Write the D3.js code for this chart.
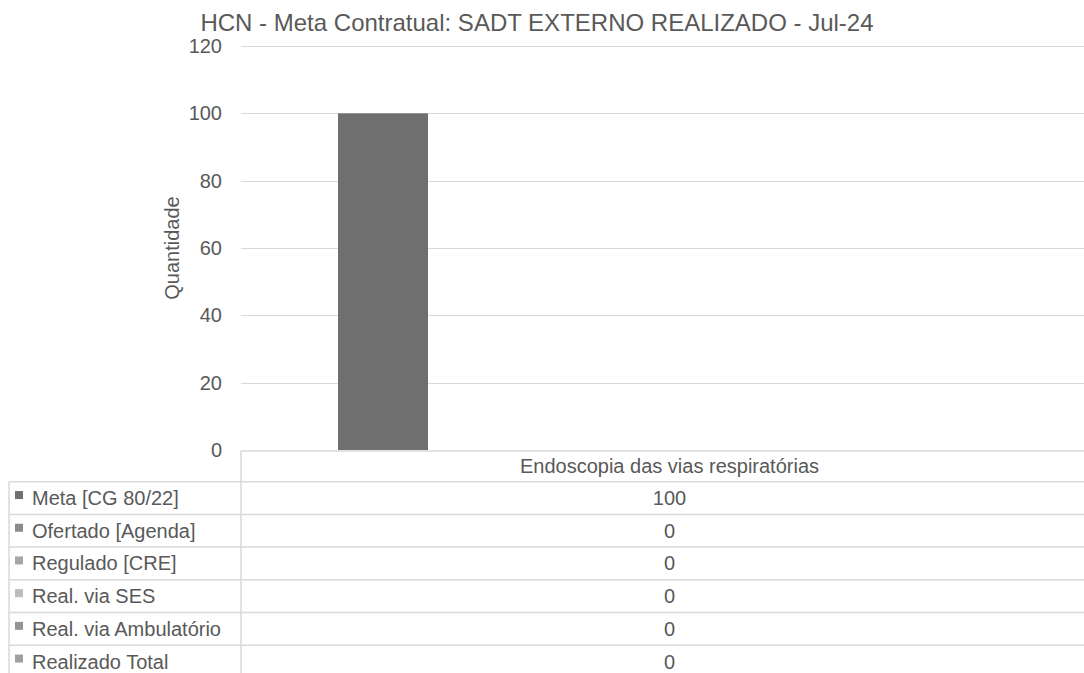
<!DOCTYPE html>
<html>
<head>
<meta charset="utf-8">
<script src="https://cdn.jsdelivr.net/npm/d3@7"></script>
<style>
  body { margin: 0; background: #fff; }
  text { font-family: "Liberation Sans", Arial, sans-serif; fill: #595959; }
</style>
</head>
<body>
<div id="chart"></div>
<script>
// Chart data
const title = "HCN - Meta Contratual: SADT EXTERNO REALIZADO - Jul-24";
const categories = ["Endoscopia das vias respiratórias"];
const seriesNames = ["Meta [CG 80/22]", "Ofertado [Agenda]", "Regulado [CRE]", "Real. via SES", "Real. via Ambulatório", "Realizado Total"];
const seriesValues = [[100], [0], [0], [0], [0], [0]];
const seriesColors = ["#6f6f6f", "#8c8c8c", "#a6a6a6", "#bdbdbd", "#939393", "#a0a0a0"];
const yTicks = [0, 20, 40, 60, 80, 100, 120];

const W = 1084, H = 673;
const plot = { left: 241, right: 1100, top: 46, bottom: 450 };
const table = { left: 9, headerTop: 451, headerH: 30.7, rowH: 32.7 };
const gridColor = "#d9d9d9";

const svg = d3.select("#chart").append("svg").attr("width", W).attr("height", H);

// Scales
const y = d3.scaleLinear().domain([0, 120]).range([plot.bottom, plot.top]);
const x0 = d3.scaleBand().domain(categories).range([plot.left, plot.right]);
const x1 = d3.scaleBand().domain(seriesNames).range([0, 540]);
const groupOffset = 97;

// Gridlines
svg.append("g")
  .selectAll("line")
  .data(yTicks.filter((t) => t > 0))
  .join("line")
  .attr("x1", plot.left).attr("x2", W)
  .attr("y1", (d) => Math.round(y(d)) + 0.5).attr("y2", (d) => Math.round(y(d)) + 0.5)
  .attr("stroke", gridColor).attr("stroke-width", 1);

// Y tick labels
svg.append("g")
  .selectAll("text")
  .data(yTicks)
  .join("text")
  .attr("x", 222)
  .attr("y", (d) => y(d))
  .attr("dy", "0.35em")
  .attr("text-anchor", "end")
  .style("font-size", "20px")
  .text((d) => d);

// Y axis title
svg.append("text")
  .attr("transform", `translate(179,${(plot.top + plot.bottom) / 2}) rotate(-90)`)
  .attr("text-anchor", "middle")
  .style("font-size", "20px")
  .text("Quantidade");

// Bars
seriesNames.forEach((name, i) => {
  svg.append("g")
    .selectAll("rect")
    .data(categories.map((c, j) => ({ c, v: seriesValues[i][j] })))
    .join("rect")
    .attr("x", (d) => x0(d.c) + groupOffset + x1(name))
    .attr("width", x1.bandwidth())
    .attr("y", (d) => y(d.v))
    .attr("height", (d) => y(0) - y(d.v))
    .attr("fill", seriesColors[i]);
});

// Data table
const rowTop = (i) => table.headerTop + table.headerH + i * table.rowH;
const tbl = svg.append("g");

// Header top line (axis line)
tbl.append("line")
  .attr("x1", plot.left).attr("x2", W)
  .attr("y1", table.headerTop).attr("y2", table.headerTop)
  .attr("stroke", gridColor).attr("stroke-width", 1.5);

// Row lines
d3.range(seriesNames.length + 1).forEach((i) => {
  tbl.append("line")
    .attr("x1", table.left).attr("x2", W)
    .attr("y1", rowTop(i)).attr("y2", rowTop(i))
    .attr("stroke", gridColor).attr("stroke-width", 1.5);
});

// Vertical lines
tbl.append("line")
  .attr("x1", plot.left).attr("x2", plot.left)
  .attr("y1", table.headerTop).attr("y2", H)
  .attr("stroke", gridColor).attr("stroke-width", 1.5);
tbl.append("line")
  .attr("x1", table.left).attr("x2", table.left)
  .attr("y1", rowTop(0)).attr("y2", H)
  .attr("stroke", gridColor).attr("stroke-width", 1.5);

// Category header
const colCenter = (c) => x0(c) + x0.bandwidth() / 2 - 1;
tbl.selectAll("text.cat")
  .data(categories)
  .join("text")
  .attr("class", "cat")
  .attr("x", (d) => colCenter(d))
  .attr("y", table.headerTop + table.headerH / 2)
  .attr("dy", "0.35em")
  .attr("text-anchor", "middle")
  .style("font-size", "20px")
  .text((d) => d);

// Series rows
seriesNames.forEach((name, i) => {
  const cy = rowTop(i) + table.rowH / 2;
  tbl.append("rect")
    .attr("x", 15).attr("y", cy - 7)
    .attr("width", 8).attr("height", 8)
    .attr("fill", seriesColors[i]);
  tbl.append("text")
    .attr("x", 32).attr("y", cy)
    .attr("dy", "0.35em")
    .style("font-size", "20px")
    .text(name);
  categories.forEach((c, j) => {
    tbl.append("text")
      .attr("x", colCenter(c))
      .attr("y", cy)
      .attr("dy", "0.35em")
      .attr("text-anchor", "middle")
      .style("font-size", "20px")
      .text(seriesValues[i][j]);
  });
});

// Title
svg.append("text")
  .attr("x", 537)
  .attr("y", 31)
  .attr("text-anchor", "middle")
  .style("font-size", "24px")
  .text(title);
</script>
</body>
</html>
